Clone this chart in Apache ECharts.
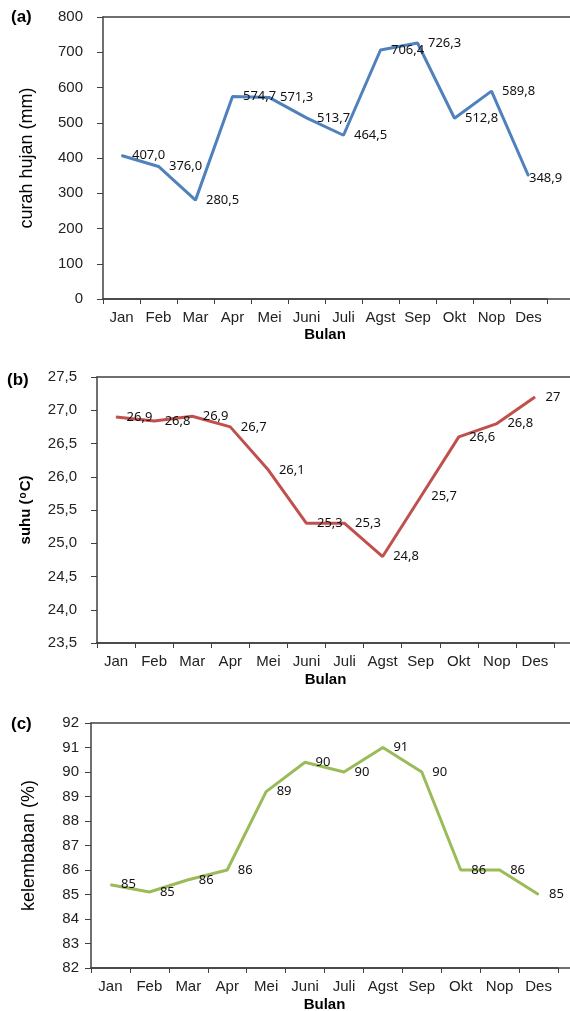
<!DOCTYPE html>
<html>
<head>
<meta charset="utf-8">
<script src="https://cdn.jsdelivr.net/npm/echarts@6/dist/echarts.min.js"></script>
<style>
html, body { margin: 0; padding: 0; background: #fff; }
#main { width: 570px; height: 1011px; }
</style>
</head>
<body>
<div id="main"></div>
<script>
// data
var bulan = ['Jan', 'Feb', 'Mar', 'Apr', 'Mei', 'Juni', 'Juli', 'Agst', 'Sep', 'Okt', 'Nop', 'Des'];
var curahHujan = [407.0, 376.0, 280.5, 574.7, 571.3, 513.7, 464.5, 706.4, 726.3, 512.8, 589.8, 348.9];
var suhu = [26.9, 26.84, 26.91, 26.75, 26.1, 25.3, 25.3, 24.8, 25.7, 26.6, 26.8, 27.2];
var suhuLabel = ['26,9', '26,8', '26,9', '26,7', '26,1', '25,3', '25,3', '24,8', '25,7', '26,6', '26,8', '27'];
var kelembaban = [85.4, 85.1, 85.6, 86.0, 89.2, 90.4, 90.0, 91.0, 90.0, 86.0, 86.0, 85.0];

var myChart = echarts.init(document.getElementById('main'));

var axisColor = '#404040';
var textColor = '#222';
var sansFont = '"Liberation Sans", Arial, sans-serif';
var labelFont = '"Noto Sans", sans-serif';

function comma(v, d) {
    return v.toFixed(d).replace('.', ',');
}

function xCat(grid, gap) {
    return {
        gridIndex: grid,
        type: 'category',
        data: bulan,
        boundaryGap: true,
        name: 'Bulan',
        nameLocation: 'middle',
        nameGap: gap,
        nameTextStyle: { fontFamily: sansFont, fontSize: 15, fontWeight: 'bold', color: '#000' },
        axisLine: { show: true, onZero: false, lineStyle: { color: axisColor, width: 1.5 } },
        axisTick: { show: true, length: 5, lineStyle: { color: axisColor, width: 1 } },
        axisLabel: { interval: 0, margin: 11, fontFamily: sansFont, fontSize: 15, color: textColor },
        splitLine: { show: false }
    };
}

function frameX(grid, pos) {
    return {
        gridIndex: grid,
        type: 'value',
        position: pos,
        axisLine: { show: true, onZero: false, lineStyle: { color: axisColor, width: 1.5 } },
        axisTick: { show: false },
        axisLabel: { show: false },
        splitLine: { show: false }
    };
}

function lineSeries(idx, data, color, fmt) {
    return {
        type: 'line',
        xAxisIndex: idx,
        yAxisIndex: idx,
        data: data,
        symbol: 'circle',
        symbolSize: 1,
        itemStyle: { color: color },
        lineStyle: { width: 3, color: color },
        label: {
            show: true,
            position: 'right',
            distance: 10,
            formatter: fmt,
            fontFamily: labelFont,
            fontSize: 13,
            color: '#111'
        }
    };
}

// the last rain label sits right on its point in the original
var hujanData = curahHujan.map(function (v, i) {
    return i === curahHujan.length - 1 ? { value: v, label: { distance: 0, offset: [0, 2] } } : v;
});

option = {
    animation: false,
    backgroundColor: '#fff',
    title: [
        { text: '(a)', left: 11, top: 9, padding: 0, textStyle: { fontFamily: sansFont, fontSize: 17, fontWeight: 'bold', color: '#000' } },
        { text: '(b)', left: 7, top: 372, padding: 0, textStyle: { fontFamily: sansFont, fontSize: 17, fontWeight: 'bold', color: '#000' } },
        { text: '(c)', left: 11, top: 716, padding: 0, textStyle: { fontFamily: sansFont, fontSize: 17, fontWeight: 'bold', color: '#000' } }
    ],
    grid: [
        { left: 103, top: 17, width: 444, height: 282, containLabel: false, outerBoundsMode: 'none' },
        { left: 97, top: 377, width: 457, height: 266, containLabel: false, outerBoundsMode: 'none' },
        { left: 91, top: 723, width: 467, height: 245, containLabel: false, outerBoundsMode: 'none' },
        // frame lines running to the right edge
        { left: 103, top: 17, right: 0, height: 282, containLabel: false, outerBoundsMode: 'none' },
        { left: 97, top: 377, right: 0, height: 266, containLabel: false, outerBoundsMode: 'none' },
        { left: 91, top: 723, right: 0, height: 245, containLabel: false, outerBoundsMode: 'none' }
    ],
    xAxis: [
        xCat(0, 28),
        xCat(1, 29),
        xCat(2, 29),
        frameX(3, 'top'), frameX(3, 'bottom'),
        frameX(4, 'top'), frameX(4, 'bottom'),
        frameX(5, 'top'), frameX(5, 'bottom')
    ],
    yAxis: [
        {
            gridIndex: 0,
            type: 'value',
            min: 0,
            max: 800,
            interval: 100,
            name: 'curah hujan (mm)',
            nameLocation: 'middle',
            nameRotate: 90,
            nameGap: 67,
            nameTextStyle: { fontFamily: sansFont, fontSize: 18, color: '#000' },
            axisLine: { show: true, onZero: false, lineStyle: { color: axisColor, width: 1.5 } },
            axisTick: { show: true, length: 6, lineStyle: { color: axisColor } },
            axisLabel: { margin: 20, fontFamily: sansFont, fontSize: 15, color: textColor },
            splitLine: { show: false }
        },
        {
            gridIndex: 1,
            type: 'value',
            min: 23.5,
            max: 27.5,
            interval: 0.5,
            name: 'suhu ({sup|o}C)',
            nameLocation: 'middle',
            nameRotate: 90,
            nameGap: 64,
            nameTextStyle: {
                fontFamily: sansFont, fontSize: 15, fontWeight: 'bold', color: '#000',
                rich: { sup: { fontFamily: sansFont, fontSize: 10, fontWeight: 'bold', color: '#000', verticalAlign: 'top', padding: [0, 1, 5, 1] } }
            },
            axisLine: { show: true, onZero: false, lineStyle: { color: axisColor, width: 1.5 } },
            axisTick: { show: true, length: 6, lineStyle: { color: axisColor } },
            axisLabel: { margin: 20, fontFamily: sansFont, fontSize: 15, color: textColor, formatter: function (v) { return comma(v, 1); } },
            splitLine: { show: false }
        },
        {
            gridIndex: 2,
            type: 'value',
            min: 82,
            max: 92,
            interval: 1,
            name: 'kelembaban (%)',
            nameLocation: 'middle',
            nameRotate: 90,
            nameGap: 53,
            nameTextStyle: { fontFamily: sansFont, fontSize: 18, color: '#000' },
            axisLine: { show: true, onZero: false, lineStyle: { color: axisColor, width: 1.5 } },
            axisTick: { show: true, length: 6, lineStyle: { color: axisColor } },
            axisLabel: { margin: 12, fontFamily: sansFont, fontSize: 15, color: textColor },
            splitLine: { show: false }
        },
        { gridIndex: 3, type: 'value', show: false },
        { gridIndex: 4, type: 'value', show: false },
        { gridIndex: 5, type: 'value', show: false }
    ],
    series: [
        lineSeries(0, hujanData, '#4F81BD', function (p) { return comma(p.value, 1); }),
        lineSeries(1, suhu, '#C0504D', function (p) { return suhuLabel[p.dataIndex]; }),
        lineSeries(2, kelembaban, '#9BBB59', function (p) { return Math.round(p.value); })
    ]
};

myChart.setOption(option);
</script>
</body>
</html>
